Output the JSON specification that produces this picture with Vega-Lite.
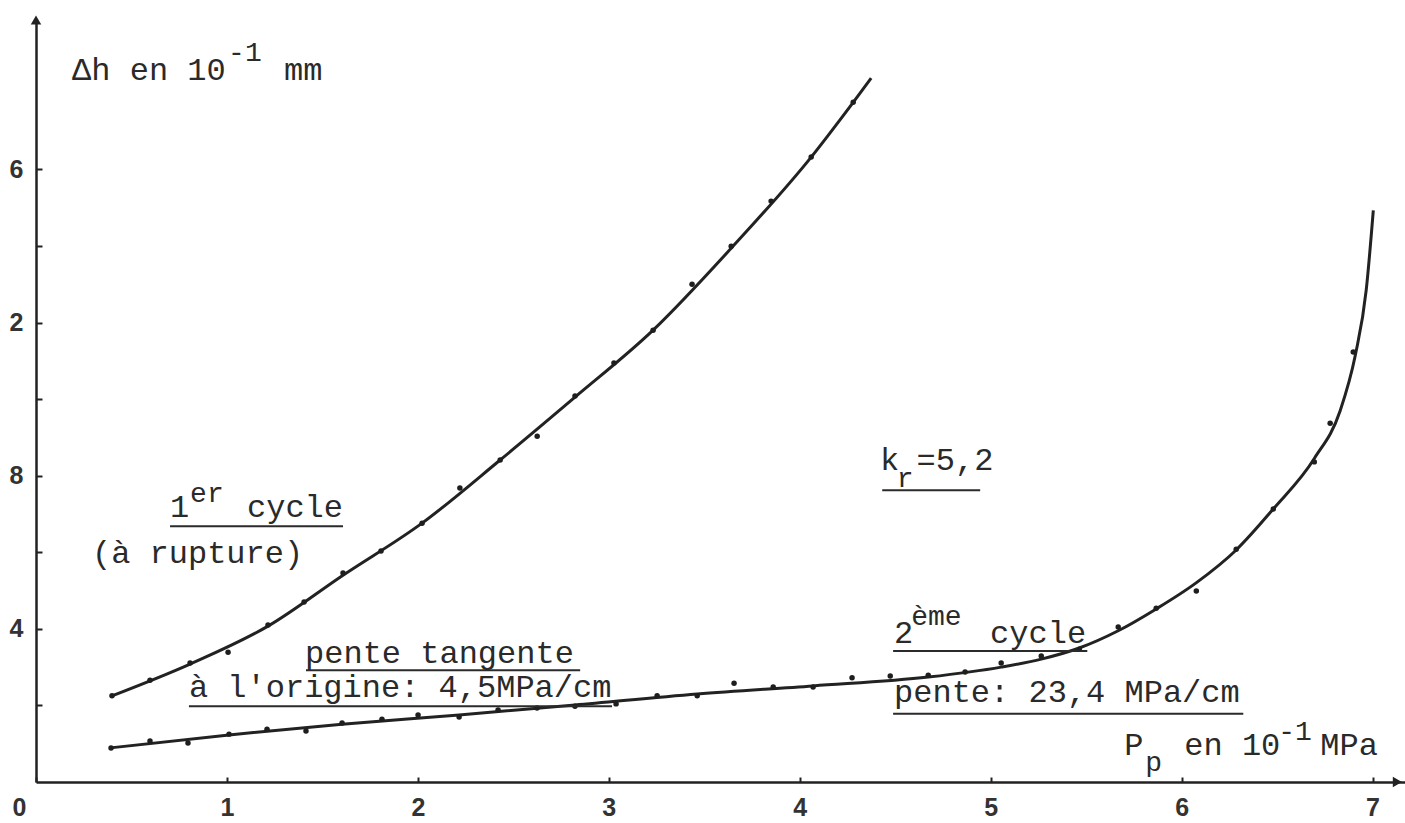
{
  "$schema": "https://vega.github.io/schema/vega-lite/v6.json",
  "width": 1369,
  "height": 762,
  "autosize": {"type": "none"},
  "padding": {"left": 36, "top": 20, "right": 0, "bottom": 41},
  "background": "white",
  "config": {"view": {"stroke": null}},
  "datasets": {
    "courbes": [
      {"cycle": "1er cycle", "p": 0.398, "dh": 2.25},
      {"cycle": "1er cycle", "p": 0.807, "dh": 3.08},
      {"cycle": "1er cycle", "p": 1.215, "dh": 4.07},
      {"cycle": "1er cycle", "p": 1.608, "dh": 5.40},
      {"cycle": "1er cycle", "p": 2.022, "dh": 6.76},
      {"cycle": "1er cycle", "p": 2.431, "dh": 8.41},
      {"cycle": "1er cycle", "p": 2.823, "dh": 10.05},
      {"cycle": "1er cycle", "p": 3.232, "dh": 11.80},
      {"cycle": "1er cycle", "p": 3.641, "dh": 13.94},
      {"cycle": "1er cycle", "p": 4.060, "dh": 16.32},
      {"cycle": "1er cycle", "p": 4.280, "dh": 17.75},
      {"cycle": "1er cycle", "p": 4.374, "dh": 18.38},
      {"cycle": "2ème cycle", "p": 0.388, "dh": 0.89},
      {"cycle": "2ème cycle", "p": 1.011, "dh": 1.23},
      {"cycle": "2ème cycle", "p": 1.603, "dh": 1.51},
      {"cycle": "2ème cycle", "p": 2.216, "dh": 1.75},
      {"cycle": "2ème cycle", "p": 2.823, "dh": 2.01},
      {"cycle": "2ème cycle", "p": 3.463, "dh": 2.30},
      {"cycle": "2ème cycle", "p": 4.070, "dh": 2.51},
      {"cycle": "2ème cycle", "p": 4.673, "dh": 2.74},
      {"cycle": "2ème cycle", "p": 5.055, "dh": 3.00},
      {"cycle": "2ème cycle", "p": 5.265, "dh": 3.21},
      {"cycle": "2ème cycle", "p": 5.464, "dh": 3.50},
      {"cycle": "2ème cycle", "p": 5.668, "dh": 3.95},
      {"cycle": "2ème cycle", "p": 5.867, "dh": 4.52},
      {"cycle": "2ème cycle", "p": 6.076, "dh": 5.20},
      {"cycle": "2ème cycle", "p": 6.286, "dh": 6.06},
      {"cycle": "2ème cycle", "p": 6.480, "dh": 7.13},
      {"cycle": "2ème cycle", "p": 6.695, "dh": 8.45},
      {"cycle": "2ème cycle", "p": 6.830, "dh": 9.69},
      {"cycle": "2ème cycle", "p": 6.910, "dh": 11.15},
      {"cycle": "2ème cycle", "p": 6.967, "dh": 12.85},
      {"cycle": "2ème cycle", "p": 7.004, "dh": 14.93}
    ],
    "mesures": [
      {"cycle": "1er cycle", "p": 0.398, "dh": 2.25},
      {"cycle": "1er cycle", "p": 0.597, "dh": 2.66},
      {"cycle": "1er cycle", "p": 0.807, "dh": 3.11},
      {"cycle": "1er cycle", "p": 1.006, "dh": 3.39},
      {"cycle": "1er cycle", "p": 1.215, "dh": 4.10},
      {"cycle": "1er cycle", "p": 1.404, "dh": 4.70},
      {"cycle": "1er cycle", "p": 1.608, "dh": 5.46},
      {"cycle": "1er cycle", "p": 1.807, "dh": 6.03},
      {"cycle": "1er cycle", "p": 2.022, "dh": 6.76},
      {"cycle": "1er cycle", "p": 2.220, "dh": 7.68},
      {"cycle": "1er cycle", "p": 2.431, "dh": 8.41},
      {"cycle": "1er cycle", "p": 2.625, "dh": 9.03},
      {"cycle": "1er cycle", "p": 2.823, "dh": 10.08},
      {"cycle": "1er cycle", "p": 3.027, "dh": 10.94},
      {"cycle": "1er cycle", "p": 3.232, "dh": 11.80},
      {"cycle": "1er cycle", "p": 3.436, "dh": 13.00},
      {"cycle": "1er cycle", "p": 3.641, "dh": 13.99},
      {"cycle": "1er cycle", "p": 3.850, "dh": 15.17},
      {"cycle": "1er cycle", "p": 4.060, "dh": 16.32},
      {"cycle": "1er cycle", "p": 4.280, "dh": 17.75},
      {"cycle": "2ème cycle", "p": 0.393, "dh": 0.89},
      {"cycle": "2ème cycle", "p": 0.597, "dh": 1.07},
      {"cycle": "2ème cycle", "p": 0.796, "dh": 1.02},
      {"cycle": "2ème cycle", "p": 1.011, "dh": 1.25},
      {"cycle": "2ème cycle", "p": 1.210, "dh": 1.38},
      {"cycle": "2ème cycle", "p": 1.414, "dh": 1.33},
      {"cycle": "2ème cycle", "p": 1.603, "dh": 1.54},
      {"cycle": "2ème cycle", "p": 1.812, "dh": 1.64},
      {"cycle": "2ème cycle", "p": 2.001, "dh": 1.75},
      {"cycle": "2ème cycle", "p": 2.216, "dh": 1.70},
      {"cycle": "2ème cycle", "p": 2.420, "dh": 1.88},
      {"cycle": "2ème cycle", "p": 2.624, "dh": 1.93},
      {"cycle": "2ème cycle", "p": 2.823, "dh": 1.98},
      {"cycle": "2ème cycle", "p": 3.038, "dh": 2.04},
      {"cycle": "2ème cycle", "p": 3.253, "dh": 2.25},
      {"cycle": "2ème cycle", "p": 3.463, "dh": 2.25},
      {"cycle": "2ème cycle", "p": 3.656, "dh": 2.58},
      {"cycle": "2ème cycle", "p": 3.861, "dh": 2.48},
      {"cycle": "2ème cycle", "p": 4.070, "dh": 2.48},
      {"cycle": "2ème cycle", "p": 4.274, "dh": 2.72},
      {"cycle": "2ème cycle", "p": 4.474, "dh": 2.77},
      {"cycle": "2ème cycle", "p": 4.673, "dh": 2.79},
      {"cycle": "2ème cycle", "p": 4.866, "dh": 2.87},
      {"cycle": "2ème cycle", "p": 5.055, "dh": 3.11},
      {"cycle": "2ème cycle", "p": 5.265, "dh": 3.29},
      {"cycle": "2ème cycle", "p": 5.464, "dh": 3.47},
      {"cycle": "2ème cycle", "p": 5.668, "dh": 4.05},
      {"cycle": "2ème cycle", "p": 5.867, "dh": 4.54},
      {"cycle": "2ème cycle", "p": 6.077, "dh": 4.99},
      {"cycle": "2ème cycle", "p": 6.286, "dh": 6.08},
      {"cycle": "2ème cycle", "p": 6.480, "dh": 7.13},
      {"cycle": "2ème cycle", "p": 6.695, "dh": 8.36},
      {"cycle": "2ème cycle", "p": 6.778, "dh": 9.37},
      {"cycle": "2ème cycle", "p": 6.899, "dh": 11.23}
    ],
    "textes": [
      {"p": 0.189, "dh": 18.33, "t": "Δh en 10"},
      {"p": 1.299, "dh": 18.33, "t": "mm"},
      {"p": 0.702, "dh": 6.92, "t": "1"},
      {"p": 1.105, "dh": 6.92, "t": "cycle"},
      {"p": 0.293, "dh": 5.72, "t": "(à rupture)"},
      {"p": 1.409, "dh": 3.11, "t": "pente tangente"},
      {"p": 0.801, "dh": 2.22, "t": "à l'origine: 4,5MPa/cm"},
      {"p": 4.421, "dh": 8.15, "t": "k"},
      {"p": 4.612, "dh": 8.15, "t": "=5,2"},
      {"p": 4.494, "dh": 3.63, "t": "2"},
      {"p": 4.997, "dh": 3.63, "t": "cycle"},
      {"p": 4.494, "dh": 2.09, "t": "pente: 23,4 MPa/cm"},
      {"p": 5.699, "dh": 0.705, "t": "P"},
      {"p": 6.014, "dh": 0.705, "t": "en 10"},
      {"p": 6.726, "dh": 0.705, "t": "MPa"}
    ],
    "indices": [
      {"p": 1.006, "dh": 18.83, "t": "-1"},
      {"p": 0.807, "dh": 7.31, "t": "er"},
      {"p": 4.508, "dh": 7.70, "t": "r"},
      {"p": 4.584, "dh": 4.10, "t": "ème"},
      {"p": 5.809, "dh": 0.29, "t": "p"},
      {"p": 6.506, "dh": 1.10, "t": "-1"}
    ],
    "soulignes": [
      {"p": 0.702, "p2": 1.608, "dh": 6.68},
      {"p": 1.414, "p2": 2.850, "dh": 2.92},
      {"p": 0.801, "p2": 3.017, "dh": 1.98},
      {"p": 4.432, "p2": 4.945, "dh": 7.62},
      {"p": 4.489, "p2": 5.506, "dh": 3.42},
      {"p": 4.489, "p2": 6.323, "dh": 1.78}
    ]
  },
  "layer": [
    {
      "data": {"name": "courbes"},
      "mark": {"type": "line", "interpolate": "monotone", "color": "#222222", "strokeWidth": 3},
      "encoding": {
        "x": {
          "field": "p", "type": "quantitative",
          "scale": {"domain": [0, 7.17], "nice": false, "zero": false},
          "axis": {
            "title": null, "grid": false, "format": "d",
            "values": [0, 1, 2, 3, 4, 5, 6, 7],
            "domainColor": "#222222", "domainWidth": 2.5,
            "tickColor": "#222222", "tickWidth": 2, "tickSize": -5,
            "labelFont": "Liberation Sans", "labelFontWeight": "bold",
            "labelFontSize": 25, "labelColor": "#333333", "labelPadding": 18,
            "labelFlush": true,
            "labelOffset": {"condition": {"test": "datum.value == 0", "value": -24}, "value": 0}
          }
        },
        "y": {
          "field": "dh", "type": "quantitative",
          "scale": {"domain": [0, 19.9], "nice": false},
          "axis": {
            "title": null, "grid": false,
            "values": [2, 4, 6, 8, 10, 12, 14, 16],
            "labelExpr": "datum.value % 4 == 0 ? '' + (datum.value % 10) : ''",
            "domainColor": "#222222", "domainWidth": 2.5,
            "tickColor": "#222222", "tickWidth": 2, "tickSize": -6,
            "labelFont": "Liberation Sans", "labelFontWeight": "bold",
            "labelFontSize": 25, "labelColor": "#333333", "labelPadding": 19
          }
        },
        "detail": {"field": "cycle"}
      }
    },
    {
      "data": {"name": "mesures"},
      "mark": {"type": "circle", "size": 30, "color": "#1e1e1e", "opacity": 1},
      "encoding": {
        "x": {"field": "p", "type": "quantitative"},
        "y": {"field": "dh", "type": "quantitative"}
      }
    },
    {
      "data": {"name": "soulignes"},
      "mark": {"type": "rule", "color": "#2a2a2a", "strokeWidth": 2},
      "encoding": {
        "x": {"field": "p", "type": "quantitative"},
        "x2": {"field": "p2"},
        "y": {"field": "dh", "type": "quantitative"}
      }
    },
    {
      "data": {"name": "textes"},
      "mark": {"type": "text", "font": "Liberation Mono", "fontSize": 32, "align": "left", "baseline": "alphabetic", "color": "#2a2a2a"},
      "encoding": {
        "x": {"field": "p", "type": "quantitative"},
        "y": {"field": "dh", "type": "quantitative"},
        "text": {"field": "t"}
      }
    },
    {
      "data": {"name": "indices"},
      "mark": {"type": "text", "font": "Liberation Mono", "fontSize": 28, "align": "left", "baseline": "alphabetic", "color": "#2a2a2a"},
      "encoding": {
        "x": {"field": "p", "type": "quantitative"},
        "y": {"field": "dh", "type": "quantitative"},
        "text": {"field": "t"}
      }
    },
    {
      "data": {"values": [{"p": 0, "dh": 19.9}]},
      "mark": {"type": "point", "shape": "triangle-up", "filled": true, "size": 110, "color": "#222222", "opacity": 1},
      "encoding": {
        "x": {"field": "p", "type": "quantitative"},
        "y": {"field": "dh", "type": "quantitative"}
      }
    },
    {
      "data": {"values": [{"p": 7.13, "dh": 0}]},
      "mark": {"type": "point", "shape": "triangle-right", "filled": true, "size": 110, "color": "#222222", "opacity": 1},
      "encoding": {
        "x": {"field": "p", "type": "quantitative"},
        "y": {"field": "dh", "type": "quantitative"}
      }
    }
  ]
}
